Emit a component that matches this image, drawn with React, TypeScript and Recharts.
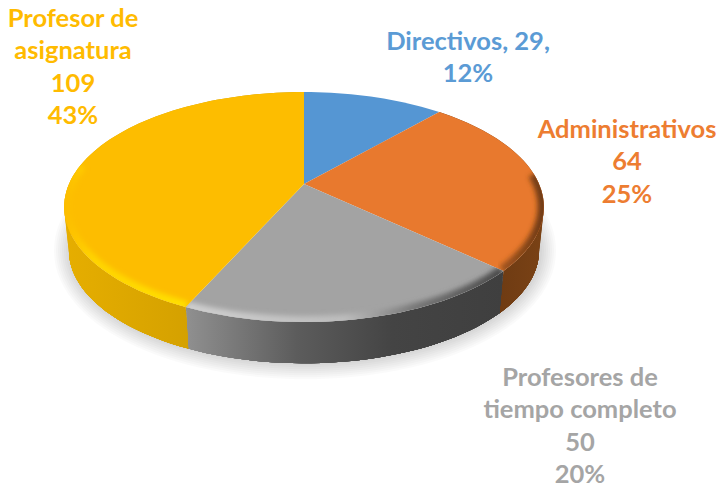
import { PieChart, Pie, Cell } from 'recharts';

const categories = ['Directivos', 'Administrativos', 'Profesores de tiempo completo', 'Profesor de asignatura'];
const counts = [29, 64, 50, 109];
const labelLines = [
  ['Directivos, 29,', '12%'],
  ['Administrativos', '64', '25%'],
  ['Profesores de', 'tiempo completo', '50', '20%'],
  ['Profesor de', 'asignatura', '109', '43%'],
];

const tableData = categories.map((name, i) => ({ name, value: counts[i] }));

const FACE_COLORS = ['#5596D3', '#E8792E', '#A3A3A3', '#FDBD00'];
const TEXT_COLORS = ['#5B9BD5', '#ED7D31', '#A5A5A5', '#FFBB00'];
const LABEL_ANCHORS = [
  { x: 468, y: 50 },
  { x: 627, y: 138 },
  { x: 580, y: 386 },
  { x: 73, y: 27 },
];
const WALL_STOPS = [
  [['0%', '#000'], ['100%', '#000']],
  [['0%', '#5F3210'], ['100%', '#7A4215']],
  [['0%', '#909090'], ['35%', '#5C5C5C'], ['65%', '#444444'], ['100%', '#3F3F3F']],
  [['0%', '#E6AE00'], ['100%', '#C49500']],
];
const RIM_STOPS = [
  [['0%', '#5596D3'], ['100%', '#5596D3']],
  [['0%', '#6E3A12'], ['100%', '#E8792E']],
  [['0%', '#CFCFCF'], ['50%', '#BDBDBD'], ['72%', '#787878'], ['100%', '#4A4A4A']],
  [['0%', '#FDBD00'], ['22%', '#FFD400'], ['100%', '#FFE000']],
];
const SHADOW_WIDTHS = [32, 28, 24, 20, 16, 12, 8, 4];

// tilted disc: fake perspective so the apex sits above the middle of the ellipse
const SPREAD_X = 235;
const SPREAD_Y = 110.4;
const PERSPECTIVE = 0.2;
const DEPTH = 44;
const BOTTOM_SCALE = 0.98;
const WALL_LAYERS = 8;

function project(cx: number, cy: number, deg: number, r = 1, scale = 1, drop = 0) {
  const a = (deg * Math.PI) / 180;
  const u = Math.sin(a) * r;
  const v = Math.cos(a) * r;
  const w = 1 + PERSPECTIVE * v;
  return [cx + (SPREAD_X * scale * u) / w, cy + drop - (SPREAD_Y * scale * v) / w];
}

function arcPoints(cx: number, cy: number, from: number, to: number, r = 1, scale = 1, drop = 0) {
  const pts = [];
  const steps = Math.max(2, Math.ceil(Math.abs(to - from) / 2));
  for (let i = 0; i <= steps; i++) {
    pts.push(project(cx, cy, from + ((to - from) * i) / steps, r, scale, drop));
  }
  return pts;
}

const toPath = (pts: number[][]) => 'M' + pts.map((p) => `${p[0].toFixed(2)},${p[1].toFixed(2)}`).join('L');

function WallShape({ cx, cy, startAngle, endAngle, index }: any) {
  const from = 90 - startAngle;
  const to = 90 - endAngle;
  const id = `wall-${index}`;
  const base = arcPoints(cx, cy, to, from, 1, BOTTOM_SCALE, DEPTH);
  const xs = [...arcPoints(cx, cy, from, to), ...base].map((p) => p[0]);
  // painted bottom-up so the outline stays tangent where the base shrinks
  const strips = [];
  for (let l = WALL_LAYERS - 1; l >= 0; l--) {
    const t = l / WALL_LAYERS;
    const upper = arcPoints(cx, cy, from, to, 1, 1 - (1 - BOTTOM_SCALE) * t, DEPTH * t);
    strips.push(toPath([...upper, ...base]) + 'Z');
  }
  const ground = toPath(arcPoints(cx + 1, cy, 0, 360, 1, BOTTOM_SCALE, DEPTH)) + 'Z';
  return (
    <g>
      <defs>
        <linearGradient id={id} gradientUnits="userSpaceOnUse" x1={Math.min(...xs)} x2={Math.max(...xs)} y1={0} y2={0}>
          {WALL_STOPS[index].map(([o, c]) => (
            <stop key={o} offset={o} stopColor={c} />
          ))}
        </linearGradient>
      </defs>
      {/* first slice is painted first, so the ground shadow goes here */}
      {index === 0 &&
        SHADOW_WIDTHS.map((w) => (
          <path key={w} d={ground} fill="none" stroke="#000" strokeOpacity={0.018} strokeWidth={w} />
        ))}
      {index !== 0 && strips.map((d, i) => <path key={i} d={d} fill={`url(#${id})`} />)}
    </g>
  );
}

function FaceShape({ cx, cy, startAngle, endAngle, index }: any) {
  const from = 90 - startAngle;
  const to = 90 - endAngle;
  const face = toPath([[cx, cy], ...arcPoints(cx, cy, from, to)]) + 'Z';
  // rounded rim is only lit along the front of the disc
  const rimFrom = Math.max(from, 85);
  const rimTo = Math.min(to, 280);
  const clip = `face-clip-${index}`;
  const grad = `rim-${index}`;
  const rim = rimTo > rimFrom ? arcPoints(cx, cy, rimFrom, rimTo, 0.995) : null;
  const xs = rim ? rim.map((p) => p[0]) : [0, 1];
  const x1 = index === 1 ? Math.max(...xs) : Math.min(...xs);
  const x2 = index === 1 ? Math.min(...xs) - 60 : Math.max(...xs);
  return (
    <g>
      <defs>
        <clipPath id={clip}>
          <path d={face} />
        </clipPath>
        <filter id={`rim-blur-${index}`} x="-10%" y="-40%" width="120%" height="180%">
          <feGaussianBlur stdDeviation="2.4" />
        </filter>
        <linearGradient id={grad} gradientUnits="userSpaceOnUse" x1={x1} x2={x2} y1={0} y2={0}>
          {RIM_STOPS[index].map(([o, c]) => (
            <stop key={o} offset={o} stopColor={c} />
          ))}
        </linearGradient>
      </defs>
      <path d={face} fill={FACE_COLORS[index]} />
      {rim && (
        <g clipPath={`url(#${clip})`}>
          <path d={toPath(rim)} fill="none" stroke={`url(#${grad})`} strokeWidth={10} filter={`url(#rim-blur-${index})`} />
        </g>
      )}
    </g>
  );
}

function renderLabel({ index }: any) {
  const at = LABEL_ANCHORS[index];
  return (
    <text
      key={index}
      x={at.x}
      y={at.y}
      textAnchor="middle"
      fontFamily="Lato, sans-serif"
      fontWeight={700}
      fontSize={25.5}
      fill={TEXT_COLORS[index]}
    >
      {labelLines[index].map((line, i) => (
        <tspan key={i} x={at.x} dy={i === 0 ? 0 : 32.3}>
          {line}
        </tspan>
      ))}
    </text>
  );
}

export default function App() {
  return (
    <div style={{ position: 'absolute', left: 0, top: 0, width: 718, height: 487 }}>
      <PieChart width={718} height={487} margin={{ top: 0, right: 0, bottom: 0, left: 0 }}>
        <Pie
          data={tableData}
          dataKey="value"
          cx={304}
          cy={184}
          outerRadius={110}
          startAngle={90}
          endAngle={-270}
          paddingAngle={0}
          stroke="none"
          shape={WallShape}
          isAnimationActive={false}
        />
        <Pie
          data={tableData}
          dataKey="value"
          cx={304}
          cy={184}
          outerRadius={110}
          startAngle={90}
          endAngle={-270}
          paddingAngle={0}
          stroke="none"
          shape={FaceShape}
          label={renderLabel}
          labelLine={false}
          isAnimationActive={false}
        >
          {tableData.map((d, i) => (
            <Cell key={d.name} fill={FACE_COLORS[i]} />
          ))}
        </Pie>
      </PieChart>
    </div>
  );
}
